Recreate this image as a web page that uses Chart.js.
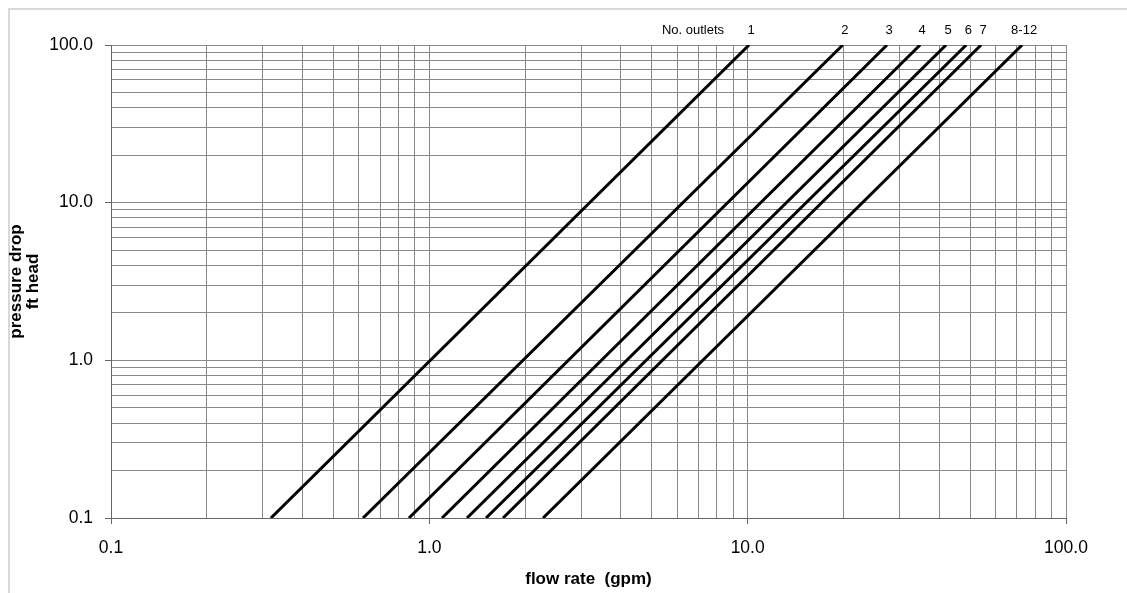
<!DOCTYPE html>
<html>
<head>
<meta charset="utf-8">
<script src="https://cdn.jsdelivr.net/npm/chart.js@4.4.1/dist/chart.umd.min.js"></script>
<style>
  html, body { margin: 0; padding: 0; background: #fff; }
  #wrap { width: 1127px; height: 593px; position: relative; }
</style>
</head>
<body>
<div id="wrap"><canvas id="c" width="1127" height="593"></canvas></div>
<script>
// ---- data ----
const outlets = ['1', '2', '3', '4', '5', '6', '7', '8-12'];
// flow rate (gpm) where each line crosses the bottom (0.1 ft) and top (100 ft) of the chart
const flowAtLowDrop  = [0.318, 0.619, 0.863, 1.096, 1.313, 1.507, 1.704, 2.276];
const flowAtHighDrop = [10.1, 19.9, 27.4, 34.8, 42.0, 48.6, 54.1, 72.8];
const pressureDrop = [0.1, 100];          // ft head at the two ends
const xRange = [0.1, 100];
const yRange = [0.1, 100];
const decades = [-1, 0, 1];
const headerText = 'No. outlets';

function logTicks() {
  const vals = [];
  decades.forEach(e => {
    for (let m = 1; m <= 9; m++) vals.push(parseFloat((m * Math.pow(10, e)).toPrecision(6)));
  });
  vals.push(parseFloat(Math.pow(10, decades[decades.length - 1] + 1).toPrecision(6)));
  return vals;
}
function isMajor(v) {
  const l = Math.log10(v);
  return Math.abs(l - Math.round(l)) < 1e-9;
}

const datasets = outlets.map((name, i) => ({
  label: name,
  data: [
    { x: flowAtLowDrop[i], y: pressureDrop[0] },
    { x: flowAtHighDrop[i], y: pressureDrop[1] }
  ],
  borderColor: '#000',
  borderWidth: 3,
  pointRadius: 0,
  tension: 0,
  fill: false
}));

const frame = {
  id: 'frame',
  beforeDraw(chart) {
    const ctx = chart.ctx;
    ctx.save();
    ctx.fillStyle = '#fff';
    ctx.fillRect(0, 0, chart.width, chart.height);
    ctx.strokeStyle = '#d9d9d9';
    ctx.lineWidth = 2;
    ctx.beginPath();
    ctx.moveTo(9, chart.height);
    ctx.lineTo(9, 9);
    ctx.lineTo(chart.width, 9);
    ctx.stroke();
    ctx.restore();
  }
};

const topLabels = {
  id: 'topLabels',
  afterDatasetsDraw(chart) {
    const ctx = chart.ctx;
    ctx.save();
    ctx.fillStyle = '#000';
    ctx.font = '13px "Liberation Sans", Arial, sans-serif';
    ctx.textAlign = 'center';
    ctx.textBaseline = 'middle';
    const y = chart.chartArea.top - 15;
    let firstX = null;
    chart.data.datasets.forEach((ds, i) => {
      const meta = chart.getDatasetMeta(i);
      const pt = meta.data[meta.data.length - 1];
      const x = pt.x + 2;
      if (firstX === null) firstX = x;
      ctx.fillText(ds.label, x, y);
    });
    ctx.textAlign = 'right';
    ctx.fillText(headerText, firstX - 27, y);
    ctx.restore();
  }
};

const tickFont = { family: '"Liberation Sans", Arial, sans-serif', size: 17.5 };
const titleFont = { family: '"Liberation Sans", Arial, sans-serif', size: 17, weight: 'bold', lineHeight: 1.0 };

new Chart(document.getElementById('c'), {
  type: 'line',
  data: { datasets },
  plugins: [frame, topLabels],
  options: {
    responsive: false,
    animation: false,
    devicePixelRatio: 1,
    layout: { padding: { top: 45, right: 61, left: 0, bottom: 0 } },
    plugins: { legend: { display: false }, tooltip: { enabled: false } },
    scales: {
      x: {
        type: 'logarithmic',
        min: xRange[0], max: xRange[1],
        afterBuildTicks(scale) { scale.ticks = logTicks().map(v => ({ value: v, major: isMajor(v) })); },
        afterFit(scale) { scale.height = 75; },
        ticks: {
          autoSkip: false, maxRotation: 0, minRotation: 0,
          color: '#000', font: tickFont, padding: 14,
          callback(value) { return isMajor(value) ? value.toFixed(1) : ''; }
        },
        grid: {
          color: '#888', lineWidth: 1, drawTicks: true, tickLength: 6,
          tickColor: (c) => (c.tick && isMajor(c.tick.value)) ? '#666' : 'rgba(0,0,0,0)'
        },
        border: { color: '#666', width: 1 },
        title: { display: true, text: 'flow rate  (gpm)', color: '#000', font: titleFont, padding: { top: 0, bottom: 5 } }
      },
      y: {
        type: 'logarithmic',
        min: yRange[0], max: yRange[1],
        afterBuildTicks(scale) { scale.ticks = logTicks().map(v => ({ value: v, major: isMajor(v) })); },
        afterFit(scale) { scale.width = 111; },
        ticks: {
          autoSkip: false,
          color: '#000', font: tickFont, padding: 12,
          callback(value) { return isMajor(value) ? value.toFixed(1) : ''; }
        },
        grid: {
          color: '#888', lineWidth: 1, drawTicks: true, tickLength: 6,
          tickColor: (c) => (c.tick && isMajor(c.tick.value)) ? '#666' : 'rgba(0,0,0,0)'
        },
        border: { color: '#666', width: 1 },
        title: { display: true, text: ['pressure drop', 'ft head'], color: '#000', font: titleFont, padding: { top: 8, bottom: 0 } }
      }
    }
  }
});
</script>
</body>
</html>
